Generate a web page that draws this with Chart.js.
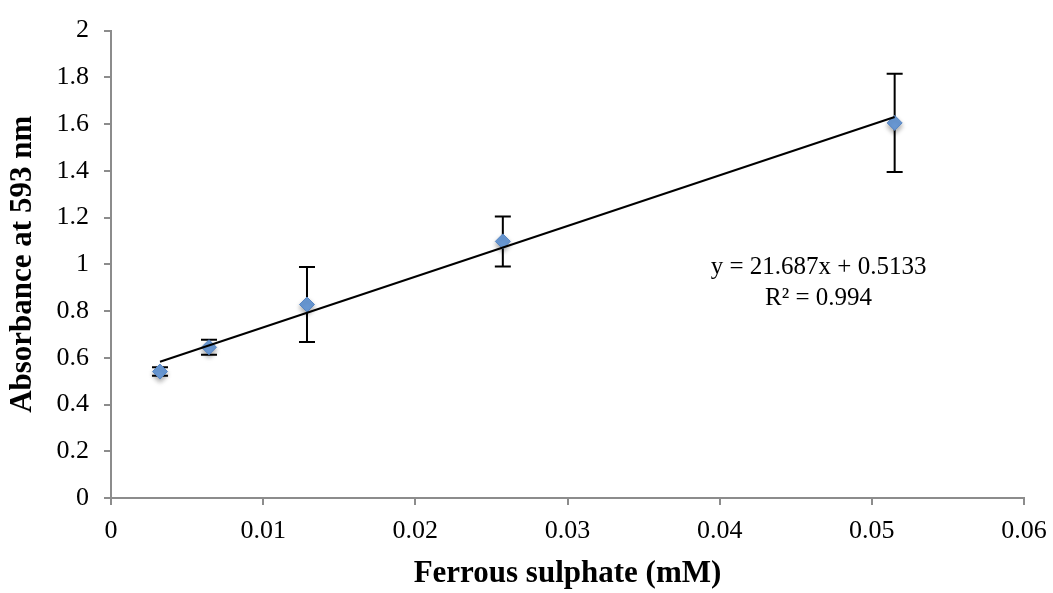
<!DOCTYPE html>
<html>
<head>
<meta charset="utf-8">
<script src="https://cdn.jsdelivr.net/npm/chart.js@4"></script>
<style>
  html, body { margin: 0; padding: 0; background: #fff; }
  #wrap { width: 1053px; height: 593px; }
</style>
</head>
<body>
<div id="wrap"><canvas id="chart" width="1053" height="593"></canvas></div>
<script>
// data
const concentrations = [0.00322, 0.00644, 0.01288, 0.02575, 0.0515];
const absorbance = [0.541, 0.645, 0.828, 1.098, 1.605];
const errors = [0.018, 0.032, 0.16, 0.107, 0.21];
const slope = 21.687;
const intercept = 0.5133;
const equationText = ['y = 21.687x + 0.5133', 'R² = 0.994'];

const axisGray = '#8c8c8c';
const tickFont = { family: 'Liberation Serif', size: 26 };

// linear trendline across the data range
const xMin = Math.min(...concentrations);
const xMax = Math.max(...concentrations);
const trend = [
    { x: xMin, y: slope * xMin + intercept },
    { x: xMax, y: slope * xMax + intercept }
];

const errorBars = {
    id: 'errorBars',
    beforeDatasetsDraw(chart) {
        const ctx = chart.ctx;
        const xs = chart.scales.x, ys = chart.scales.y;
        ctx.save();
        ctx.strokeStyle = '#000';
        ctx.lineWidth = 2;
        concentrations.forEach((c, i) => {
            const px = xs.getPixelForValue(c);
            const top = ys.getPixelForValue(absorbance[i] + errors[i]);
            const bot = ys.getPixelForValue(absorbance[i] - errors[i]);
            ctx.beginPath();
            ctx.moveTo(px, top); ctx.lineTo(px, bot);
            ctx.moveTo(px - 8, top); ctx.lineTo(px + 8, top);
            ctx.moveTo(px - 8, bot); ctx.lineTo(px + 8, bot);
            ctx.stroke();
        });
        ctx.restore();
    }
};

// soft drop shadow under the diamond markers
const markerShadow = {
    id: 'markerShadow',
    beforeDatasetDraw(chart, args) {
        if (args.index !== 0) return;
        const ctx = chart.ctx;
        ctx.save();
        ctx.shadowColor = 'rgba(0,0,0,0.35)';
        ctx.shadowBlur = 5;
        ctx.shadowOffsetY = 3;
    },
    afterDatasetDraw(chart, args) {
        if (args.index !== 0) return;
        chart.ctx.restore();
    }
};

const equationLabel = {
    id: 'equationLabel',
    afterDatasetsDraw(chart) {
        const ctx = chart.ctx;
        const px = chart.scales.x.getPixelForValue(0.0465);
        const py = chart.scales.y.getPixelForValue(0.985);
        ctx.save();
        ctx.fillStyle = '#000';
        ctx.font = '25px "Liberation Serif"';
        ctx.textAlign = 'center';
        ctx.textBaseline = 'middle';
        ctx.fillText(equationText[0], px, py);
        ctx.fillText(equationText[1], px, py + 31);
        ctx.restore();
    }
};

const ctx = document.getElementById('chart').getContext('2d');
new Chart(ctx, {
    type: 'scatter',
    data: {
        datasets: [{
            label: 'Absorbance',
            data: concentrations.map((c, i) => ({ x: c, y: absorbance[i] })),
            pointStyle: 'rectRot',
            pointRadius: 7.5,
            pointBackgroundColor: '#6a9ad6',
            pointBorderColor: '#5585c4',
            pointBorderWidth: 1,
            order: 1
        }, {
            label: 'Linear',
            type: 'line',
            data: trend,
            borderColor: '#000',
            borderWidth: 2,
            pointRadius: 0,
            fill: false,
            order: 0
        }]
    },
    options: {
        responsive: false,
        animation: false,
        layout: { padding: { top: 25, right: 29, left: 0, bottom: 0 } },
        plugins: {
            legend: { display: false },
            tooltip: { enabled: false }
        },
        scales: {
            x: {
                type: 'linear',
                min: 0,
                max: 0.06,
                afterFit: (s) => { s.height = 95; s.paddingRight = 0; },
                ticks: {
                    stepSize: 0.01,
                    font: tickFont,
                    color: '#000',
                    padding: 11,
                    maxRotation: 0,
                    callback: (v) => String(parseFloat(v.toFixed(3)))
                },
                grid: { drawOnChartArea: false, tickLength: 7, color: axisGray, lineWidth: 2 },
                border: { color: axisGray, width: 2 },
                title: {
                    display: true,
                    text: 'Ferrous sulphate (mM)',
                    font: { family: 'Liberation Serif', size: 31, weight: 'bold' },
                    color: '#000',
                    padding: { top: 0, bottom: 0 }
                }
            },
            y: {
                min: 0,
                max: 2,
                afterFit: (s) => { s.width = 111; },
                ticks: {
                    stepSize: 0.2,
                    font: tickFont,
                    color: '#000',
                    padding: 15,
                    callback: (v) => String(parseFloat(v.toFixed(2)))
                },
                grid: { drawOnChartArea: false, tickLength: 7, color: axisGray, lineWidth: 2 },
                border: { color: axisGray, width: 2 },
                title: {
                    display: true,
                    text: 'Absorbance at 593 nm',
                    font: { family: 'Liberation Serif', size: 31, weight: 'bold' },
                    color: '#000',
                    padding: { top: 4, bottom: 0 }
                }
            }
        }
    },
    plugins: [errorBars, markerShadow, equationLabel]
});
</script>
</body>
</html>
